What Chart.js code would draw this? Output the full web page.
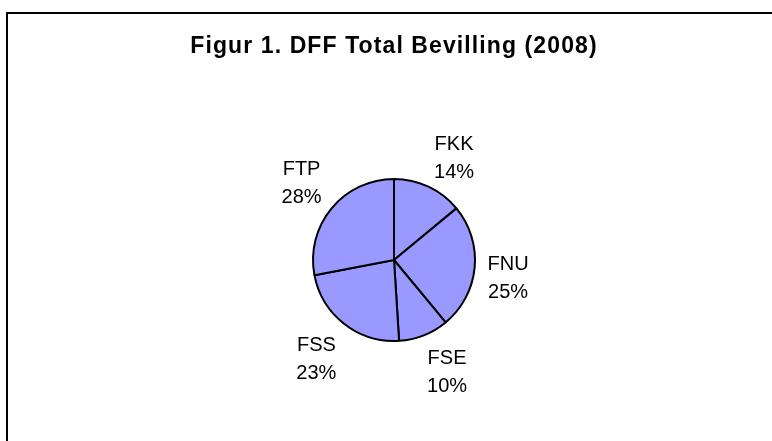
<!DOCTYPE html>
<html>
<head>
<meta charset="utf-8">
<script src="https://cdn.jsdelivr.net/npm/chart.js@4"></script>
<style>
  html, body { margin: 0; padding: 0; background: #ffffff; }
  #wrap { position: relative; width: 772px; height: 441px; }
</style>
</head>
<body>
<div id="wrap"><canvas id="pieChart"></canvas></div>
<script>
// Data
const categories = ['FKK', 'FNU', 'FSE', 'FSS', 'FTP'];
const shares = [14, 25, 10, 23, 28];
const titleText = 'Figur 1. DFF Total Bevilling (2008)';

const fontFamily = '"Liberation Sans", Arial, Helvetica, sans-serif';

// Frame (left + top edges) and the title
const framePlugin = {
    id: 'frame',
    beforeDraw(chart) {
        const ctx = chart.ctx;
        ctx.save();
        ctx.strokeStyle = '#000000';
        ctx.lineWidth = 2;
        ctx.beginPath();
        ctx.moveTo(7, chart.height);
        ctx.lineTo(7, 13);
        ctx.lineTo(chart.width, 13);
        ctx.stroke();

        const area = chart.chartArea;
        const cx = (area.left + area.right) / 2;
        ctx.font = 'bold 23px ' + fontFamily;
        ctx.letterSpacing = '1.1px';
        ctx.fillStyle = '#000000';
        ctx.textAlign = 'center';
        ctx.textBaseline = 'alphabetic';
        ctx.fillText(titleText, cx, 53);
        ctx.restore();
    }
};

// Category + percent labels outside each slice
const outsideLabels = {
    id: 'outsideLabels',
    afterDatasetsDraw(chart) {
        const ctx = chart.ctx;
        const meta = chart.getDatasetMeta(0);
        const data = chart.data.datasets[0].data;
        const total = data.reduce((a, b) => a + b, 0);
        const clamp = (v) => Math.max(-1, Math.min(1, v));
        ctx.save();
        ctx.font = '20px ' + fontFamily;
        ctx.fillStyle = '#000000';
        ctx.textAlign = 'center';
        ctx.textBaseline = 'alphabetic';
        meta.data.forEach((arc, i) => {
            const p = arc.getProps(['x', 'y', 'startAngle', 'endAngle', 'outerRadius'], true);
            const mid = (p.startAngle + p.endAngle) / 2;
            const dx = Math.cos(mid);
            const dy = Math.sin(mid);
            const line1 = chart.data.labels[i];
            const line2 = Math.round(data[i] / total * 100) + '%';
            const hw = Math.max(ctx.measureText(line1).width, ctx.measureText(line2).width) / 2;
            const hh = 21;
            // anchor just outside the rim, box pushed out by its nearest corner
            const anchor = p.outerRadius + 13;
            const bx = p.x + dx * anchor + hw * clamp(dx * 2.5);
            const by = p.y + dy * anchor + hh * clamp(dy * 2.5) + 3;
            ctx.fillText(line1, bx, by - 7);
            ctx.fillText(line2, bx, by + 21);
        });
        ctx.restore();
    }
};

new Chart(document.getElementById('pieChart'), {
    type: 'pie',
    data: {
        labels: categories,
        datasets: [{
            data: shares,
            backgroundColor: '#9999ff',
            borderColor: '#000000',
            borderWidth: 2
        }]
    },
    options: {
        responsive: true,
        maintainAspectRatio: false,
        animation: false,
        layout: {
            padding: { left: 194, right: 178, top: 178, bottom: 99 }
        },
        plugins: {
            legend: { display: false },
            tooltip: { enabled: false },
            title: { display: false }
        }
    },
    plugins: [framePlugin, outsideLabels]
});
</script>
</body>
</html>
